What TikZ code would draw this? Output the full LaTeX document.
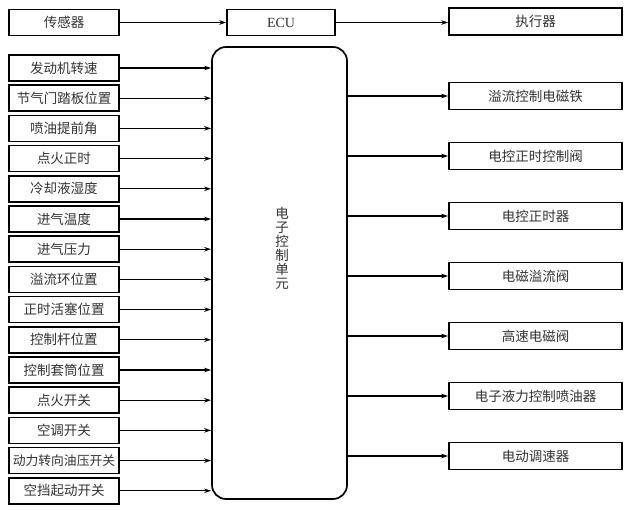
\documentclass[tikz,border=0pt]{standalone}
\usepackage{fontspec}
\setmainfont{Liberation Serif}
\newfontfamily\cjk{Noto Sans CJK SC}
\usetikzlibrary{arrows.meta}
\begin{document}
\begin{tikzpicture}[x=1pt,y=-1pt,
  box/.style={draw=black,line width=1.7pt,rectangle,inner sep=0pt,font=\cjk\fontsize{13.5}{15}\selectfont,text=black!80},
  lbox/.style={box,minimum width=110pt,minimum height=26pt},
  rbox/.style={box,minimum width=173pt,minimum height=27pt},
  arr/.style={line width=1.3pt,-{Stealth[length=7pt,width=4.5pt]}}]
\useasboundingbox (0,0) rectangle (630,511);
% top row
\node[lbox] (sensor) at (64,22.5) {传感器};
\node[box,minimum width=108pt,minimum height=26pt,font=\fontsize{14}{15}\selectfont] (ecu) at (281,22.5) {ECU};
\node[rbox] (act) at (535.5,21.5) {执行器};
\draw[arr] (sensor.east) -- (sensor.east -| ecu.west);
\draw[arr] (ecu.east) -- (ecu.east -| act.west);
% central unit
\node[draw=black,line width=1.7pt,rounded corners=14pt,minimum width=135pt,minimum height=452pt,inner sep=0pt] (cu) at (279.5,273) {};
\node[font=\cjk\fontsize{13.5}{14}\selectfont,align=center,inner sep=0pt,text=black!80] (cutext) at (282,248) {电\\子\\控\\制\\单\\元};
% left inputs
\foreach \t [count=\i] in {发动机转速,节气门踏板位置,喷油提前角,点火正时,冷却液湿度,进气温度,进气压力,溢流环位置,正时活塞位置,控制杆位置,控制套筒位置,点火开关,空调开关,{\fontsize{12.8}{14}\selectfont 动力转向油压开关},空挡起动开关}{
  \node[lbox] (in\i) at (64,{68+(\i-1)*30.2}) {\t};
  \draw[arr] (in\i.east) -- (in\i.east -| cu.west);
}
% right outputs
\foreach \t [count=\i] in {溢流控制电磁铁,电控正时控制阀,电控正时器,电磁溢流阀,高速电磁阀,电子液力控制喷油器,电动调速器}{
  \node[rbox] (out\i) at (535.5,{96+(\i-1)*60}) {\t};
  \draw[arr] (out\i.west -| cu.east) -- (out\i.west);
}
\end{tikzpicture}
\end{document}
